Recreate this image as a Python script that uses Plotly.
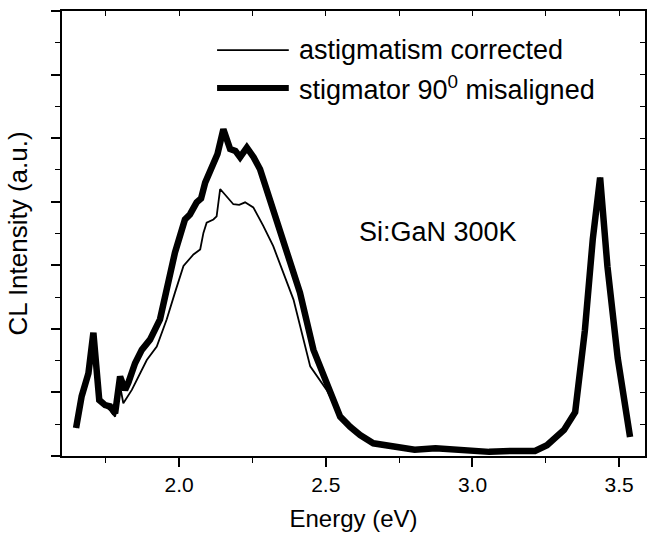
import plotly.graph_objects as go

# ---- data ----
energy_misaligned = [1.649, 1.668, 1.691, 1.708, 1.728, 1.748, 1.765, 1.782, 1.799, 1.816,
                     1.827, 1.85, 1.873, 1.901, 1.935, 1.958, 1.975, 1.986, 2.02, 2.037,
                     2.06, 2.075, 2.089, 2.11, 2.131, 2.151, 2.164, 2.174, 2.192, 2.208,
                     2.231, 2.254, 2.276, 2.321, 2.367, 2.412, 2.458, 2.503, 2.549, 2.583,
                     2.617, 2.662, 2.732, 2.803, 2.874, 2.944, 3.057, 3.128, 3.213, 3.254,
                     3.312, 3.35, 3.383, 3.41, 3.435, 3.46, 3.495, 3.537]
intensity_misaligned = [0.44, 0.94, 1.30, 1.94, 0.88, 0.80, 0.78, 0.67, 1.25, 1.04,
                        1.15, 1.46, 1.67, 1.83, 2.15, 2.62, 2.99, 3.20, 3.72, 3.80,
                        3.99, 4.05, 4.30, 4.54, 4.75, 5.14, 4.91, 4.83, 4.80, 4.70,
                        4.85, 4.70, 4.51, 3.88, 3.20, 2.57, 1.67, 1.15, 0.62, 0.46,
                        0.33, 0.20, 0.145, 0.10, 0.12, 0.09, 0.065, 0.08, 0.08, 0.17,
                        0.41, 0.69, 1.97, 3.41, 4.38, 2.98, 1.54, 0.30]

energy_corrected = [1.649, 1.668, 1.691, 1.708, 1.728, 1.748, 1.765, 1.782, 1.799, 1.81,
                    1.839, 1.867, 1.89, 1.924, 1.958, 1.986, 2.015, 2.049, 2.072, 2.083,
                    2.094, 2.117, 2.128, 2.14, 2.16, 2.185, 2.205, 2.225, 2.253, 2.287,
                    2.321, 2.39, 2.447, 2.503, 2.537, 2.583, 2.617, 2.662, 2.732, 2.803,
                    2.874, 2.944, 3.057, 3.128, 3.213, 3.254, 3.312, 3.35, 3.383, 3.41,
                    3.435, 3.46, 3.495, 3.537]
intensity_corrected = [0.44, 0.94, 1.30, 1.92, 0.88, 0.78, 0.72, 0.62, 1.10, 0.83,
                       1.04, 1.30, 1.51, 1.72, 2.15, 2.57, 2.99, 3.17, 3.25, 3.51,
                       3.67, 3.72, 3.77, 4.20, 4.10, 3.96, 3.95, 3.99, 3.91, 3.62,
                       3.30, 2.46, 1.41, 1.04, 0.73, 0.46, 0.33, 0.20, 0.145, 0.10,
                       0.12, 0.09, 0.065, 0.08, 0.08, 0.17, 0.41, 0.69, 1.97, 3.41,
                       4.38, 2.98, 1.54, 0.30]

x_tick_values = [2.0, 2.5, 3.0, 3.5]
x_tick_labels = ["2.0", "2.5", "3.0", "3.5"]
series_names = ["astigmatism corrected", "stigmator 90<sup>0</sup> misaligned"]
x_title = "Energy (eV)"
y_title = "CL Intensity (a.u.)"
sample_label = "Si:GaN 300K"

FONT = "Liberation Sans, Arial, sans-serif"
X_RANGE = [1.601, 3.588]
Y_RANGE = [0, 7]

fig = go.Figure()
fig.add_trace(go.Scatter(x=energy_corrected, y=intensity_corrected, mode="lines",
                         line=dict(color="black", width=1.8), name=series_names[0],
                         showlegend=False))
fig.add_trace(go.Scatter(x=energy_misaligned, y=intensity_misaligned, mode="lines",
                         line=dict(color="black", width=6.5), name=series_names[1],
                         showlegend=False))
# dummy trace so that mirror (top/right) axes are drawn
fig.add_trace(go.Scatter(x=[None], y=[None], xaxis="x2", yaxis="y2",
                         showlegend=False, hoverinfo="skip"))

fig.update_layout(
    width=649, height=534,
    margin=dict(l=62, r=4, t=11, b=78),
    paper_bgcolor="white", plot_bgcolor="white",
    font=dict(family=FONT, color="black"),
    showlegend=False,
    xaxis=dict(range=X_RANGE, tickmode="array", tickvals=x_tick_values, ticktext=x_tick_labels,
               ticks="outside", ticklen=9, tickwidth=1.5, tickcolor="black",
               minor=dict(dtick=0.25, tick0=1.5, ticks="outside", ticklen=5, tickwidth=1.2, tickcolor="black"),
               showline=True, linewidth=1.8, linecolor="black", showgrid=False, zeroline=False,
               tickfont=dict(size=21, family=FONT),
               title=dict(text=x_title, font=dict(size=24, family=FONT), standoff=15)),
    yaxis=dict(range=Y_RANGE, dtick=1, tick0=0, showticklabels=False,
               ticks="outside", ticklen=9, tickwidth=1.5, tickcolor="black",
               minor=dict(dtick=0.5, tick0=0, ticks="outside", ticklen=5, tickwidth=1.2, tickcolor="black"),
               showline=True, linewidth=1.8, linecolor="black", showgrid=False, zeroline=False,
               title=dict(text=y_title, font=dict(size=26, family=FONT), standoff=16)),
    xaxis2=dict(range=X_RANGE, overlaying="x", side="top", anchor="y", dtick=0.25, tick0=1.5,
                ticks="inside", ticklen=5, tickwidth=1.2, tickcolor="black", showticklabels=False,
                showline=True, linewidth=1.8, linecolor="black", showgrid=False, zeroline=False),
    yaxis2=dict(range=Y_RANGE, overlaying="y", side="right", anchor="x", dtick=0.5, tick0=0,
                ticks="inside", ticklen=5, tickwidth=1.2, tickcolor="black", showticklabels=False,
                showline=True, linewidth=1.8, linecolor="black", showgrid=False, zeroline=False),
)

# hand-made legend (long line samples as in the reference)
legend_rows = [(0.912, 1.8, series_names[0]), (0.827, 6, series_names[1])]
for ypos, w, label in legend_rows:
    fig.add_shape(type="line", xref="paper", yref="paper", x0=0.266, x1=0.389, y0=ypos, y1=ypos,
                  line=dict(color="black", width=w))
    fig.add_annotation(xref="paper", yref="paper", x=0.403, y=ypos, text=label, showarrow=False,
                       xanchor="left", yanchor="middle", font=dict(size=27, family=FONT, color="black"))

fig.add_annotation(xref="paper", yref="paper", x=0.645, y=0.503, text=sample_label, showarrow=False,
                   xanchor="center", yanchor="middle", font=dict(size=27, family=FONT, color="black"))

fig.write_html("out.html")
